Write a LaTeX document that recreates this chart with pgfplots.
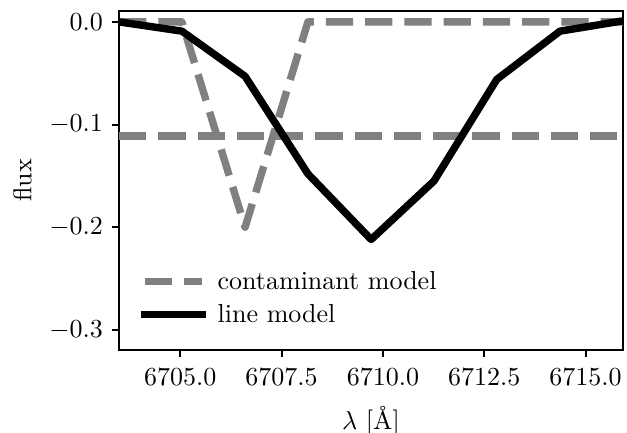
\documentclass[border=0pt]{standalone}
\usepackage{pgfplots}
\pgfplotsset{compat=1.18}
\definecolor{mplgrey}{HTML}{808080}
\begin{document}
\begin{tikzpicture}
\begin{axis}[
  name=ax, at={(0,0)}, anchor=south west,
  scale only axis, width=193.8pt, height=130.4pt,
  xmin=6703.49, xmax=6715.92,
  ymin=-0.3195, ymax=0.0107,
  xtick={6705,6707.5,6710,6712.5,6715},
  ytick={-0.3,-0.2,-0.1,0},
  xticklabel style={yshift=-1pt, /pgf/number format/.cd, fixed, fixed zerofill, precision=1, 1000 sep={}},
  yticklabel style={/pgf/number format/.cd, fixed, fixed zerofill, precision=1},
  scaled ticks=false,
  tick align=outside, xtick pos=left, ytick pos=left,
  major tick length=2.7pt,
  every tick/.style={black, line width=0.8pt},
  axis line style={line width=0.8pt},
  xlabel={$\lambda$ [\AA]}, ylabel={flux},
  xlabel style={yshift=-1pt},
  legend style={draw=none, fill=none, at={(rel axis cs:0,0)}, anchor=south west,
    xshift=8.3pt, yshift=8.5pt, row sep=2.7pt, inner sep=0pt,
    nodes={inner sep=0pt, text height=8pt, text depth=2pt},
    /tikz/every odd column/.append style={column sep=4.6pt}},
  legend cell align=left,
  legend image code/.code={\draw[#1] (0pt,0pt) -- (22pt,0pt);},
]
% contaminant model (V shaped dip)
\addplot[mplgrey, line width=2.85pt, line join=round, dash pattern=on 10.5pt off 4.6pt] coordinates {
  (6703.49,0) (6705.04,0) (6706.60,-0.2) (6708.15,0) (6709.71,0)
  (6711.26,0) (6712.81,0) (6714.37,0) (6715.92,0)
};
\addlegendentry{contaminant model}
% flat level
\addplot[mplgrey, line width=2.85pt, dash pattern=on 10.5pt off 4.6pt, forget plot] coordinates {
  (6703.49,-0.111) (6715.92,-0.111)
};
% line model
\addplot[black, line width=2.85pt, line cap=rect, line join=round] coordinates {
  (6703.49,0.0) (6705.04,-0.009) (6706.60,-0.053) (6708.15,-0.148)
  (6709.71,-0.212) (6711.26,-0.155) (6712.81,-0.056) (6714.37,-0.009)
  (6715.92,0.001)
};
\addlegendentry{line model}
\end{axis}
\pgfresetboundingbox
\path[use as bounding box] (-45.8pt,-31.9pt) rectangle (195.4pt,134.6pt);
\end{tikzpicture}
\end{document}
